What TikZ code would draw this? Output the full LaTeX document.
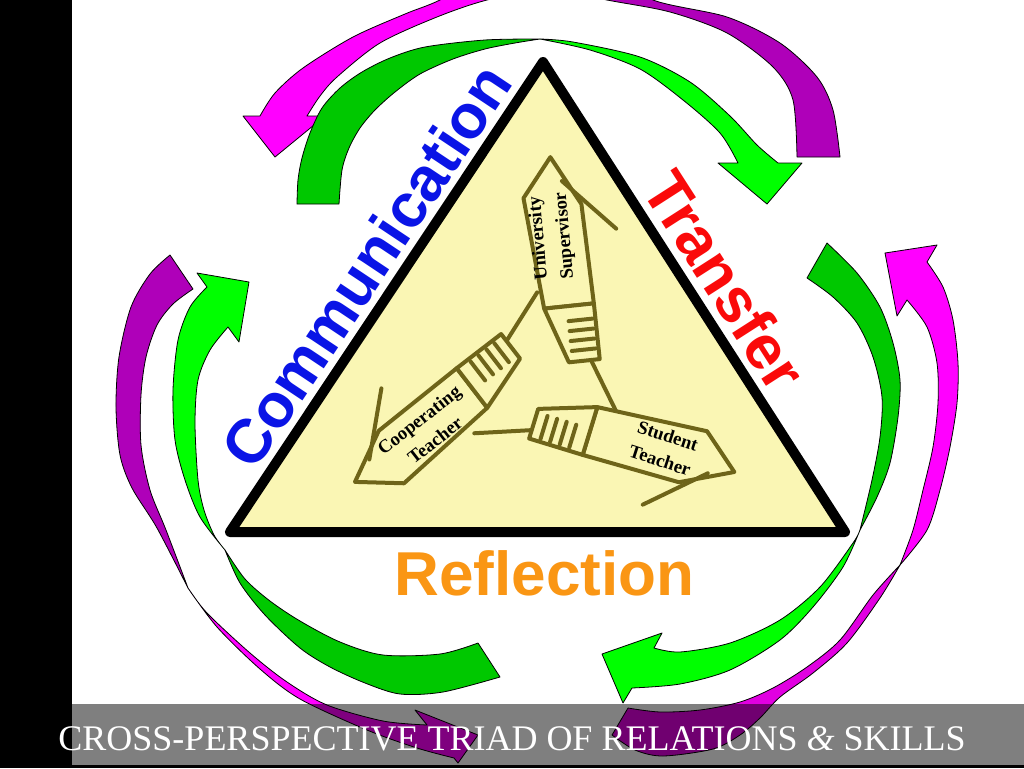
\documentclass[tikz,border=0pt]{standalone}
\usepackage{fontspec}
\setmainfont{Liberation Serif}
\newfontfamily\wordfont{Liberation Sans}
\definecolor{paper}{RGB}{250,246,180}
\definecolor{inkolive}{RGB}{110,100,25}
\definecolor{greenlight}{RGB}{0,255,0}
\definecolor{greendark}{RGB}{0,200,0}
\definecolor{pinklight}{RGB}{255,0,255}
\definecolor{pinkmid}{RGB}{225,0,225}
\definecolor{purpledark}{RGB}{175,0,185}
\definecolor{commblue}{RGB}{10,20,230}
\definecolor{transred}{RGB}{250,10,10}
\definecolor{reflorange}{RGB}{250,150,20}
\begin{document}
\begin{tikzpicture}[x=0.75pt, y=-0.75pt,
    ribbon/.style={draw=black, line width=0.6pt, line join=round},
    ink/.style={draw=inkolive, line width=3pt, line cap=round, line join=round},
    bigword/.style={font=\wordfont\bfseries\fontsize{46.5}{50}\selectfont, inner sep=0pt, anchor=base},
    tag/.style={font=\bfseries\fontsize{14}{19.5}\selectfont, align=center, inner sep=0pt}]
  \useasboundingbox (0,0) rectangle (1024,768);
  \clip (0,0) rectangle (1024,768);
  \fill[white] (0,0) rectangle (1024,768);

  % top pair
  \filldraw[ribbon, fill=pinklight] plot[smooth] coordinates {(550,-42) (495,-30) (440,0) (405,14) (353,37) (303,68) (275,93) (260,116)}
    -- (243,116) -- (275,157) -- (325,116) -- (307,116)
    -- plot[smooth] coordinates {(307,116) (320,96) (337,77) (380,43) (437,17) (487,0) (550,-12)} -- cycle;
  \filldraw[ribbon, fill=purpledark] plot[smooth] coordinates {(550,-42) (607,-30) (653,0) (727,17) (780,43) (817,77) (833,110) (840,157)}
    -- (797,157)
    -- plot[smooth] coordinates {(797,157) (793,100) (773,67) (727,33) (670,12) (607,0) (550,-12)} -- cycle;
  \filldraw[ribbon, fill=greendark] plot[smooth] coordinates {(297,204) (298,180) (302,158) (310,133) (322,108) (340,88) (362,72) (390,58) (425,47) (485,40) (540,39)}
    -- plot[smooth] coordinates {(540,39) (515,43) (485,49) (453,59) (420,74) (395,92) (375,110) (360,128) (349,148) (342,170) (339,204)} -- cycle;
  \filldraw[ribbon, fill=greenlight] plot[smooth] coordinates {(540,39) (573,42) (640,57) (690,82) (730,116) (757,145) (778,163)}
    -- (802,163) -- (767,204) -- (718,163) -- (738,163)
    -- plot[smooth] coordinates {(738,163) (720,133) (683,100) (640,69) (590,50) (540,39)} -- cycle;

  % left pair
  \filldraw[ribbon, fill=purpledark] plot[smooth] coordinates {(170,255) (150,274) (131,307) (119,357) (116,407) (120,455) (132,488) (157,528) (188,588)}
    -- plot[smooth] coordinates {(188,588) (166,530) (150,490) (141,445) (141,395) (146,357) (157,325) (173,304) (193,289)} -- cycle;
  \filldraw[ribbon, fill=pinklight] plot[smooth] coordinates {(188,588) (207,613) (250,653) (287,682) (327,705) (383,721) (427,725)}
    -- (415,710) -- (478,735) -- (458,763) -- (454,758)
    -- plot[smooth] coordinates {(454,758) (417,748) (367,730) (300,699) (260,669) (217,627) (188,588)} -- cycle;
  \filldraw[ribbon, fill=greenlight] plot[smooth] coordinates {(225,550) (214,535) (204,510) (198,480) (195,423) (198,380) (210,350) (228,327)}
    -- (239,342) -- (249,282) -- (197,273) -- (207,287)
    -- plot[smooth] coordinates {(207,287) (190,307) (178,340) (173,390) (175,440) (185,480) (200,517) (225,550)} -- cycle;
  \filldraw[ribbon, fill=greendark] plot[smooth] coordinates {(225,550) (245,579) (270,601) (300,621) (340,642) (383,655) (440,654) (478,643)}
    -- (500,677)
    -- plot[smooth] coordinates {(500,677) (443,692) (400,694) (365,683) (330,667) (300,648) (265,615) (240,583) (225,550)} -- cycle;

  % right pair
  \filldraw[ribbon, fill=greendark] plot[smooth] coordinates {(827,243) (857,273) (880,307) (893,343) (900,380) (898,417) (890,463) (877,497) (860,530)}
    -- plot[smooth] coordinates {(860,530) (872,480) (880,437) (882,397) (873,357) (857,323) (833,297) (807,278)} -- cycle;
  \filldraw[ribbon, fill=greenlight] plot[smooth] coordinates {(860,530) (843,567) (813,607) (780,640) (730,670) (680,684) (632,688)}
    -- (623,703) -- (602,654) -- (662,633) -- (654,648)
    -- plot[smooth] coordinates {(654,648) (680,652) (730,643) (780,620) (820,587) (853,543) (860,530)} -- cycle;
  \filldraw[ribbon, fill=pinklight] plot[smooth] coordinates {(900,565) (913,530) (923,490) (933,447) (938,403) (937,363) (927,327) (907,300)}
    -- (897,316) -- (885,253) -- (937,245) -- (927,262)
    -- plot[smooth] coordinates {(927,262) (943,287) (953,320) (958,363) (957,403) (950,447) (940,490) (927,530) (900,565)} -- cycle;
  \filldraw[ribbon, fill=pinkmid] plot[smooth] coordinates {(900,565) (873,595) (840,640) (807,667) (773,688) (740,702) (700,710) (660,712) (628,708)}
    -- (612,735)
    -- plot[smooth] coordinates {(612,735) (635,750) (663,756) (713,749) (740,735) (760,718) (780,697) (813,673) (847,643) (880,598) (900,565)} -- cycle;

  % triangle
  \coordinate (apex) at (543,62);
  \coordinate (left) at (230,532);
  \coordinate (right) at (845,532);
  \filldraw[fill=paper, draw=black, line width=7.5pt, line join=round] (apex) -- (left) -- (right) -- cycle;

  % hands
  \foreach \wx/\wy/\ang in {569/306/96, 472/388/217.6, 590/431/-17} {
    \begin{scope}[shift={(\wx,\wy)}, rotate=\ang]
      \draw[ink] (-50,14) -- (-110,36);
    \end{scope}
  }
  \foreach \wx/\wy/\ang in {569/306/96, 472/388/217.6, 590/431/-17} {
    \begin{scope}[shift={(\wx,\wy)}, rotate=\ang]
      \filldraw[ink, fill=paper] (0,-25) -- (112,-34) -- (150,-3) -- (100,23) -- (0,25) -- cycle;
      \draw[ink] (125,6) -- (72,55);
      \filldraw[ink, fill=paper] (0,-25) -- (-56,-6) -- (-56,25) -- (0,25) -- cycle;
      \foreach \f in {15,25,35,45}
        \draw[ink] (-\f,-2) -- (-\f,22);
    \end{scope}
  }
  \node[tag, rotate=95] (sup) at (552,237) {University\\Supervisor};
  \node[tag, rotate=38] (coop) at (427,430) {Cooperating\\Teacher};
  \node[tag, rotate=-18] (stud) at (664,448) {Student\\Teacher};

  % words round the triangle
  \node[bigword, text=commblue, rotate=56.3] (comm) at (384.8,277.9) {Communication};
  \node[bigword, text=transred, rotate=-57.3] (trans) at (706.5,292.5) {Transfer};
  \node[bigword, text=reflorange] (refl) at (544.5,595) {Reflection};

  % banner
  \fill[black, opacity=0.5] (72,704) rectangle (1024,765);
  \fill[black] (0,0) rectangle (72,768);
  \fill[black] (0,765) rectangle (1024,768);
  \node[text=white, font=\fontsize{27}{30}\selectfont, anchor=base, inner sep=0pt] (title) at (512,750)
    {CROSS-PERSPECTIVE TRIAD OF RELATIONS \textit{\&} SKILLS};
\end{tikzpicture}
\end{document}
